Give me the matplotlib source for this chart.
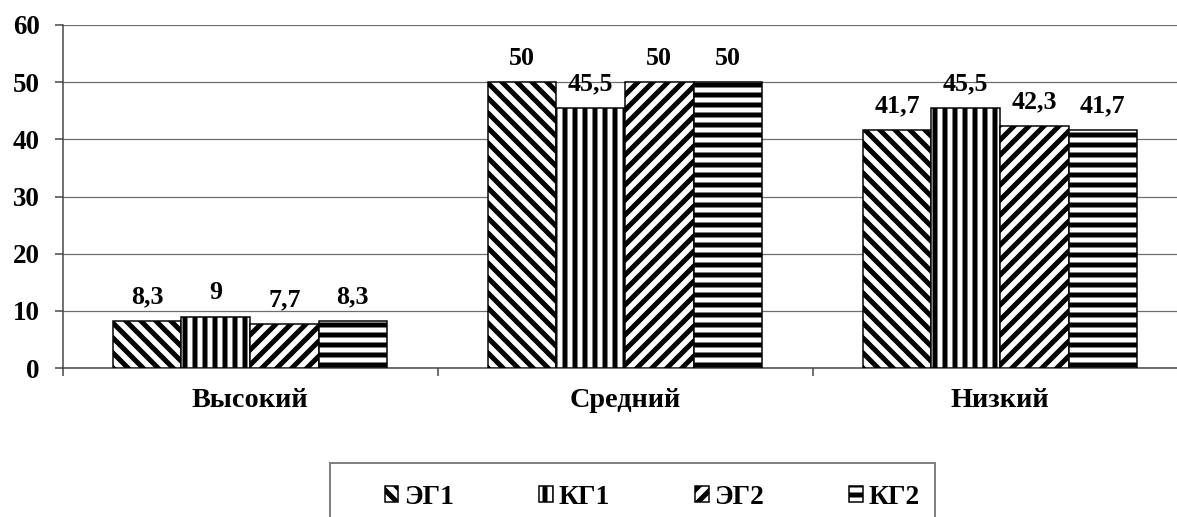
import matplotlib
matplotlib.use('Agg')
import matplotlib.pyplot as plt
import numpy as np
from matplotlib.patches import Patch, Rectangle

# percentage of pupils at each level, per group
levels = ['Высокий', 'Средний', 'Низкий']
groups = ['ЭГ1', 'КГ1', 'ЭГ2', 'КГ2']
eg1 = [8.3, 50, 41.7]
kg1 = [9, 45.5, 45.5]
eg2 = [7.7, 50, 42.3]
kg2 = [8.3, 50, 41.7]
series = [eg1, kg1, eg2, kg2]
hatches = ['\\\\\\\\', '|||', '////', '---']

plt.rcParams['font.family'] = ['Liberation Serif', 'DejaVu Serif']
plt.rcParams['font.weight'] = 'bold'
plt.rcParams['hatch.linewidth'] = 2.0
plt.rcParams['hatch.color'] = 'black'

W, H, DPI = 1177, 517, 180
fig = plt.figure(figsize=(W / DPI, H / DPI), dpi=DPI)
ax = fig.add_axes([62.5 / W, 149 / H, 1125 / W, 343 / H])

x = np.arange(len(levels))
bw = 0.1827
for i, (vals, h) in enumerate(zip(series, hatches)):
    pos = x + (i - 1.5) * bw
    ax.bar(pos, vals, bw, facecolor='white', edgecolor='black',
           hatch=h, linewidth=0.6, zorder=3)
    for px, v in zip(pos, vals):
        ax.annotate(f'{v:g}'.replace('.', ','), (px, v), xytext=(0, 5),
                    textcoords='offset points', ha='center', va='bottom',
                    fontsize=10.4, fontweight='bold', zorder=4)

ax.set_xlim(-0.5, 2.5)
ax.set_ylim(0, 60)
ax.set_yticks(range(0, 61, 10))
ax.yaxis.grid(True, color='#6e6e6e', linewidth=0.5, zorder=0)
ax.set_axisbelow(True)

ax.set_xticks(x)
ax.set_xticklabels(levels, fontsize=11.3, fontweight='bold')
ax.set_xticks(np.arange(-0.5, 3, 1), minor=True)
ax.tick_params(axis='x', which='major', length=0, pad=8)
ax.tick_params(axis='x', which='minor', length=3.2, width=0.6, color='#444444')
ax.tick_params(axis='y', length=3.2, width=0.6, color='#444444', pad=6,
               labelsize=10.8)

for s in ['top', 'right']:
    ax.spines[s].set_visible(False)
ax.spines['left'].set_color('#444444')
ax.spines['bottom'].set_color('#444444')
ax.spines['left'].set_linewidth(0.6)
ax.spines['bottom'].set_linewidth(0.6)

handles = [Patch(facecolor='white', edgecolor='black', hatch=h, linewidth=0.6)
           for h in hatches]
fig.legend(handles, groups, loc='center', bbox_to_anchor=(652 / W, 1 - 497 / H),
           ncol=4, frameon=False, fontsize=11, handlelength=0.5,
           handleheight=0.5, handletextpad=0.2, columnspacing=3.1)
fig.add_artist(Rectangle((330 / W, -0.05), (935 - 330) / W, (517 - 463) / H + 0.05,
                         transform=fig.transFigure, fill=False,
                         edgecolor='#808080', linewidth=0.8))

fig.savefig('out.png', dpi=DPI)
